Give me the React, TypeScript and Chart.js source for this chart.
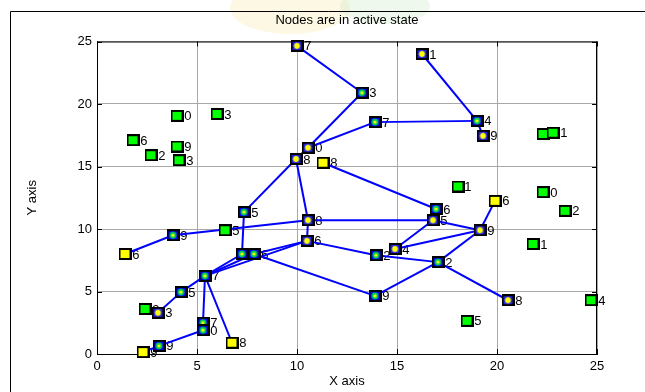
import React, { useEffect, useRef } from 'react';
import { Chart, registerables } from 'chart.js';

Chart.register(...registerables);

const chartTitle = 'Nodes are in active state';
const xAxisLabel = 'X axis';
const yAxisLabel = 'Y axis';
const xTicks = [0, 5, 10, 15, 20, 25];
const yTicks = [0, 5, 10, 15, 20, 25];

// inactive (green) nodes: x, y, label
const idleNodes: [number, number, string][] = [
  [4.0, 19.05, '30'],
  [6.0, 19.2, '43'],
  [1.8, 17.1, '26'],
  [4.0, 16.6, '49'],
  [2.7, 15.9, '12'],
  [4.1, 15.5, '23'],
  [6.4, 9.9, '25'],
  [18.05, 13.4, '11'],
  [22.3, 12.95, '50'],
  [23.4, 11.45, '42'],
  [21.8, 8.8, '31'],
  [22.3, 17.6, '20'],
  [22.8, 17.7, '21'],
  [24.7, 4.3, '24'],
  [18.5, 2.65, '45'],
  [2.4, 3.6, '13'],
];

// isolated yellow nodes: id, x, y, label
const headNodes: [string, number, number, string][] = [
  ['h1', 1.4, 8.0, '36'],
  ['h2', 11.3, 15.3, '18'],
  ['h3', 19.9, 12.25, '16'],
  ['h4', 6.75, 0.9, '38'],
  ['h5', 2.3, 0.15, '19'],
];

// active nodes with yellow ring marker: id, x, y, label
const ringNodes: [string, number, number, string][] = [
  ['A', 10.0, 24.65, '47'],
  ['C', 16.25, 24.0, '01'],
  ['E', 19.3, 17.45, '39'],
  ['G', 10.55, 16.5, '40'],
  ['H', 9.95, 15.6, '28'],
  ['I', 10.55, 10.7, '48'],
  ['J', 10.5, 9.05, '26'],
  ['P', 3.05, 3.3, '33'],
  ['U', 14.9, 8.4, '04'],
  ['W', 20.55, 4.3, '08'],
  ['Y', 16.8, 10.7, '05'],
  ['Z', 19.15, 9.9, '09'],
];

// active nodes with green dot marker: id, x, y, label
const dotNodes: [string, number, number, string][] = [
  ['B', 13.25, 20.9, '33'],
  ['D', 19.0, 18.65, '14'],
  ['F', 13.9, 18.55, '37'],
  ['K', 7.35, 11.35, '35'],
  ['L', 3.8, 9.5, '29'],
  ['M1', 7.25, 8.0, '46'],
  ['M2', 7.85, 8.0, '16'],
  ['N', 5.4, 6.25, '17'],
  ['O', 4.2, 4.95, '15'],
  ['Q1', 5.3, 2.5, '27'],
  ['Q2', 5.3, 1.9, '10'],
  ['R', 3.1, 0.65, '39'],
  ['S', 13.9, 4.65, '29'],
  ['T', 13.95, 7.9, '12'],
  ['V', 17.05, 7.35, '32'],
  ['X', 16.95, 11.6, '36'],
];

const links: [string, string][] = [
  ['A', 'B'], ['B', 'G'], ['F', 'G'], ['G', 'H'], ['F', 'D'], ['C', 'D'], ['D', 'E'],
  ['H', 'K'], ['H', 'I'], ['h2', 'X'], ['I', 'Y'], ['L', 'I'], ['h1', 'L'], ['K', 'M1'],
  ['I', 'J'], ['N', 'M1'], ['N', 'M2'], ['N', 'J'], ['M2', 'J'], ['M2', 'S'], ['J', 'T'],
  ['T', 'V'], ['U', 'Y'], ['U', 'Z'], ['V', 'Z'], ['V', 'W'], ['V', 'S'], ['Y', 'Z'],
  ['Z', 'h3'], ['X', 'Y'], ['N', 'O'], ['O', 'P'], ['N', 'Q1'], ['Q1', 'Q2'], ['Q2', 'R'],
  ['R', 'h5'], ['N', 'h4'],
];

const FONT = "'Liberation Sans', Arial, sans-serif";

function makeMarker(fill: string, kind: 'plain' | 'ring' | 'dot'): HTMLCanvasElement {
  const c = document.createElement('canvas');
  c.width = 13;
  c.height = 12;
  const g = c.getContext('2d')!;
  g.fillStyle = '#000000';
  g.fillRect(0, 0, 13, 12);
  g.fillStyle = fill;
  g.fillRect(2, 2, 9, 8);
  if (kind === 'ring') {
    g.beginPath();
    g.arc(6.5, 6, 3.6, 0, Math.PI * 2);
    g.fillStyle = '#ffff00';
    g.fill();
    g.strokeStyle = '#2020ff';
    g.lineWidth = 1;
    g.stroke();
  } else if (kind === 'dot') {
    g.beginPath();
    g.arc(6.5, 6, 3.4, 0, Math.PI * 2);
    g.fillStyle = '#00d050';
    g.fill();
    g.beginPath();
    g.arc(6.5, 6, 1.6, 0, Math.PI * 2);
    g.fillStyle = '#ffff00';
    g.fill();
  }
  return c;
}

export default function App() {
  const ref = useRef<HTMLCanvasElement | null>(null);

  useEffect(() => {
    if (!ref.current) return;
    const pos: Record<string, { x: number; y: number }> = {};
    [...headNodes, ...ringNodes, ...dotNodes].forEach(([id, x, y]) => {
      pos[id] = { x, y };
    });

    const allLabels: [number, number, string][] = [
      ...idleNodes,
      ...headNodes.map(([, x, y, l]) => [x, y, l] as [number, number, string]),
      ...ringNodes.map(([, x, y, l]) => [x, y, l] as [number, number, string]),
      ...dotNodes.map(([, x, y, l]) => [x, y, l] as [number, number, string]),
    ];

    const decor = {
      id: 'decor',
      beforeDraw(chart: any) {
        const ctx = chart.ctx;
        ctx.save();
        // faint watermark tones outside the axes
        ctx.globalAlpha = 0.35;
        ctx.fillStyle = '#f7ecb0';
        ctx.beginPath();
        ctx.ellipse(290, 8, 60, 26, 0, 0, Math.PI * 2);
        ctx.fill();
        ctx.fillStyle = '#cdebc8';
        ctx.beginPath();
        ctx.ellipse(385, 6, 45, 18, 0, 0, Math.PI * 2);
        ctx.fill();
        ctx.globalAlpha = 1;
        ctx.strokeStyle = '#000';
        ctx.lineWidth = 1;
        ctx.beginPath();
        ctx.moveTo(10.5, 400);
        ctx.lineTo(10.5, 11.5);
        ctx.lineTo(700, 11.5);
        ctx.stroke();
        const a = chart.chartArea;
        ctx.fillStyle = '#000';
        ctx.font = `13px ${FONT}`;
        ctx.textAlign = 'center';
        ctx.textBaseline = 'middle';
        ctx.fillText(chartTitle, (a.left + a.right) / 2, 20);
        ctx.restore();
      },
      beforeDatasetsDraw(chart: any) {
        const { ctx, chartArea: a, scales } = chart;
        ctx.save();
        ctx.strokeStyle = '#000';
        ctx.lineWidth = 1;
        ctx.beginPath();
        ctx.moveTo(a.left, a.top + 0.5);
        ctx.lineTo(a.right, a.top + 0.5);
        ctx.moveTo(a.right - 0.5, a.top);
        ctx.lineTo(a.right - 0.5, a.bottom);
        xTicks.forEach((t) => {
          const px = Math.round(scales.x.getPixelForValue(t)) + 0.5;
          ctx.moveTo(px, a.bottom);
          ctx.lineTo(px, a.bottom - 5);
          ctx.moveTo(px, a.top);
          ctx.lineTo(px, a.top + 5);
        });
        yTicks.forEach((t) => {
          const py = Math.round(scales.y.getPixelForValue(t)) + 0.5;
          ctx.moveTo(a.left, py);
          ctx.lineTo(a.left + 5, py);
          ctx.moveTo(a.right, py);
          ctx.lineTo(a.right - 5, py);
        });
        ctx.stroke();
        ctx.fillStyle = '#000';
        ctx.font = `13px ${FONT}`;
        ctx.textAlign = 'left';
        ctx.textBaseline = 'middle';
        allLabels.forEach(([x, y, l]) => {
          ctx.fillText(l, scales.x.getPixelForValue(x), scales.y.getPixelForValue(y) + 1);
        });
        ctx.restore();
      },
    };

    const greenM = makeMarker('#00ff00', 'plain');
    const yellowM = makeMarker('#ffff00', 'plain');
    const ringM = makeMarker('#1a1ad0', 'ring');
    const dotM = makeMarker('#0000ff', 'dot');

    const pointDs = (data: { x: number; y: number }[], style: HTMLCanvasElement) => ({
      data,
      pointStyle: style,
      pointRadius: 6,
      showLine: false,
      order: 0,
      clip: false,
    });

    const lineDs = links.map(([a, b]) => ({
      data: [pos[a], pos[b]],
      showLine: true,
      borderColor: '#0000ff',
      borderWidth: 2,
      pointRadius: 0,
      order: 1,
      clip: false,
    }));

    const chart = new Chart(ref.current, {
      type: 'scatter',
      data: {
        datasets: [
          pointDs(idleNodes.map(([x, y]) => ({ x, y })), greenM),
          pointDs(headNodes.map(([, x, y]) => ({ x, y })), yellowM),
          pointDs(ringNodes.map(([, x, y]) => ({ x, y })), ringM),
          pointDs(dotNodes.map(([, x, y]) => ({ x, y })), dotM),
          ...lineDs,
        ] as any,
      },
      options: {
        responsive: false,
        animation: false,
        devicePixelRatio: 1,
        events: [],
        layout: { padding: { left: 20, right: 48, top: 41.5, bottom: 0 } },
        plugins: {
          legend: { display: false },
          tooltip: { enabled: false },
          title: { display: false },
        },
        scales: {
          x: {
            type: 'linear',
            min: 0,
            max: 25,
            afterFit: (s: any) => { s.height = 38; },
            afterBuildTicks: (s: any) => { s.ticks = xTicks.map((v) => ({ value: v })); },
            ticks: { color: '#000', font: { family: FONT, size: 13 }, padding: 5 },
            grid: { color: '#a8a8a8', lineWidth: 1, drawTicks: false },
            border: { display: true, color: '#000', width: 1 },
            title: {
              display: true,
              text: xAxisLabel,
              color: '#000',
              font: { family: FONT, size: 13 },
              padding: { top: 0, bottom: 3 },
            },
          },
          y: {
            type: 'linear',
            min: 0,
            max: 25,
            afterFit: (s: any) => { s.width = 77; },
            afterBuildTicks: (s: any) => { s.ticks = yTicks.map((v) => ({ value: v })); },
            ticks: { color: '#000', font: { family: FONT, size: 13 }, padding: 5 },
            grid: { color: '#a8a8a8', lineWidth: 1, drawTicks: false },
            border: { display: true, color: '#000', width: 1 },
            title: {
              display: true,
              text: yAxisLabel,
              color: '#000',
              font: { family: FONT, size: 13 },
              padding: { top: 5, bottom: 0 },
            },
          },
        },
      } as any,
      plugins: [decor],
    });
    return () => chart.destroy();
  }, []);

  return (
    <div style={{ position: 'fixed', left: 0, top: 0, width: 645, height: 392, background: '#fff' }}>
      <canvas ref={ref} width={645} height={392} style={{ display: 'block' }} />
    </div>
  );
}
